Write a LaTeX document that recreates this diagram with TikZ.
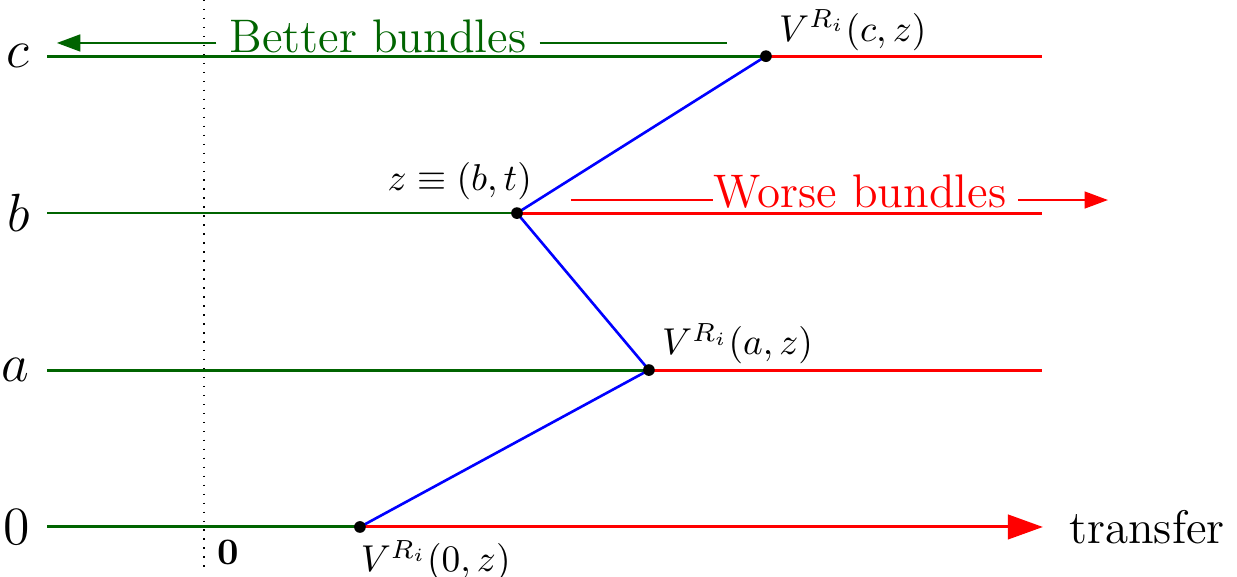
\documentclass[tikz,border=0pt]{standalone}
\usepackage{amsmath,amssymb}
\usetikzlibrary{arrows.meta}
\definecolor{dkgreen}{RGB}{0,100,0}
\definecolor{vblue}{RGB}{0,0,255}

\begin{document}
\begin{tikzpicture}[
  >={Triangle[length=2.2mm, width=1.6mm]},
  level/.style={line width=0.8pt},
  bpath/.style={vblue, line width=0.7pt},
  bigtext/.style={font=\fontsize{12.6}{15}\selectfont},
]
\useasboundingbox (-1.917,-0.470) rectangle (9.709,4.953);

% Left ends of the levels
\coordinate (s0) at (-1.475,0);
\coordinate (sa) at (-1.475,1.475);
\coordinate (sb) at (-1.475,2.95);
\coordinate (sc) at (-1.475,4.425);

% Right ends of the levels
\coordinate (e0) at (7.885,0);
\coordinate (ea) at (7.875,1.475);
\coordinate (eb) at (7.875,2.95);
\coordinate (ec) at (7.875,4.425);

% Bundle points
\coordinate (p0) at (1.466,0);
\coordinate (pa) at (4.182,1.475);
\coordinate (pb) at (2.942,2.95);
\coordinate (pc) at (5.282,4.425);

% Dotted line at zero transfer
\coordinate (vtop) at (0,4.953);
\coordinate (vbot) at (0,-0.423);
\draw[dotted] (vtop) -- (vbot);

% Better part (green)
\draw[dkgreen, level] (s0) -- (p0);
\draw[dkgreen, level] (sa) -- (pa);
\draw[dkgreen, thin] (sb) -- (pb);
\draw[dkgreen, level] (sc) -- (pc);

% Worse part (red)
\draw[red, level, -{Triangle[length=3.3mm, width=2.3mm]}] (p0) -- (e0);
\draw[red, level] (pa) -- (ea);
\draw[red, level] (pb) -- (eb);
\draw[red, level] (pc) -- (ec);

% Indifference path
\draw[bpath] (p0) -- (pa) -- (pb) -- (pc);
\foreach \p in {p0,pa,pb,pc}
  \fill (\p) circle (0.055);

% Level labels
\node[left, inner sep=4.5pt, font=\Large] (l0) at (s0) {$0$};
\node[left, inner sep=4.5pt, font=\Large] (la) at (sa) {$a$};
\node[left, inner sep=4.5pt, font=\Large] (lb) at (sb) {$b$};
\node[left, inner sep=4.5pt, font=\Large] (lc) at (sc) {$c$};

\node[right, xshift=3.5pt, bigtext] (xlab) at (e0) {transfer};
\node[below right] (zero) at (0,0) {$\mathbf{0}$};

% Point labels
\node[above right, yshift=-2pt] (vc) at (pc) {$V^{R_i}(c,z)$};
\node[above right, yshift=-2pt] (va) at (pa) {$V^{R_i}(a,z)$};
\node[below right, xshift=-3.3pt] (v0) at (p0) {$V^{R_i}(0,z)$};
\node[above left, xshift=7.5pt] (zb) at (pb) {$z\equiv(b,t)$};

% Better bundles
\node[dkgreen, bigtext] (better) at (1.635,4.61) {Better bundles};
\coordinate (bl) at (-1.382,4.549);
\coordinate (br) at (4.915,4.549);
\draw[dkgreen, thin, ->] (better.west |- bl) -- (bl);
\draw[dkgreen, thin] (better.east |- br) -- (br);

% Worse bundles
\node[red, bigtext, inner xsep=0pt] (worse) at (6.165,3.148) {Worse bundles};
\coordinate (wl) at (3.449,3.073);
\coordinate (wr) at (8.496,3.073);
\draw[red, thin] (wl) -- (worse.west |- wl);
\draw[red, thin, ->] ([xshift=3pt]worse.east |- wr) -- (wr);

\end{tikzpicture}
\end{document}
